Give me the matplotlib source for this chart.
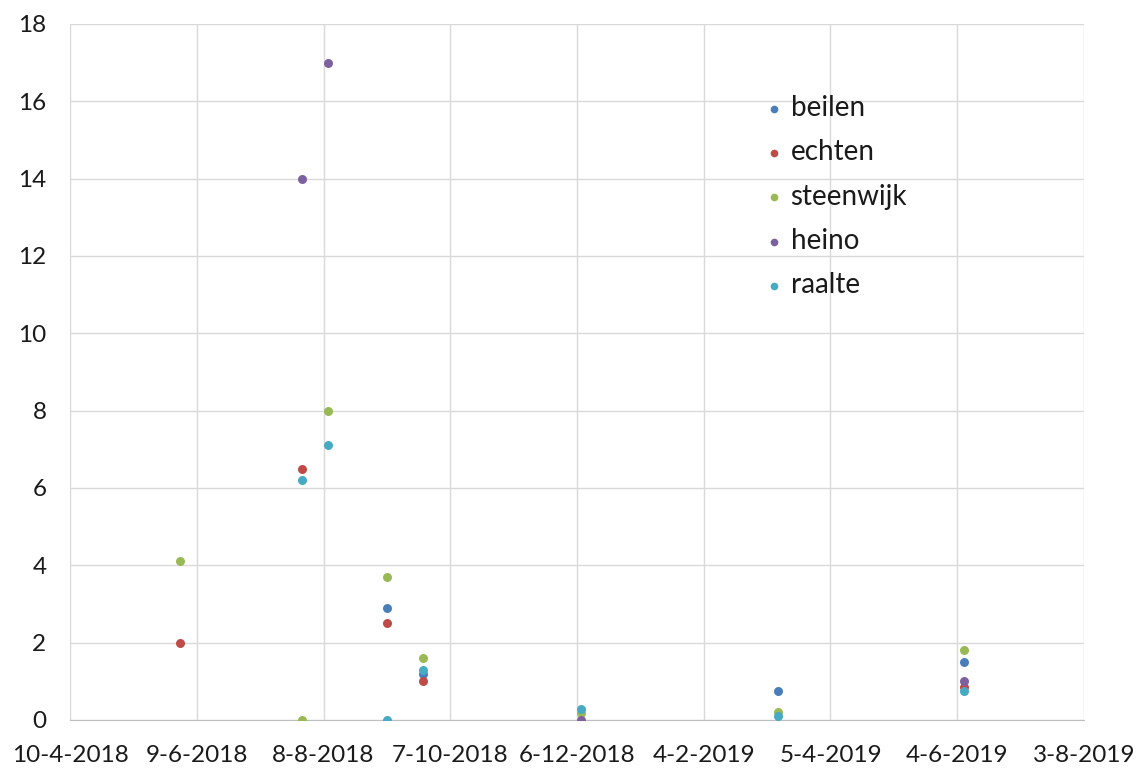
import pandas as pd
import matplotlib
matplotlib.use('Agg')
import matplotlib.pyplot as plt
import numpy as np

# meetdata per locatie (NaN = geen meting zichtbaar)
dates = pd.to_datetime(['1-6-2018', '29-7-2018', '10-8-2018', '7-9-2018', '24-9-2018',
                        '8-12-2018', '11-3-2019', '7-6-2019'], dayfirst=True)
beilen    = [np.nan, np.nan, np.nan, 2.9, 1.2, np.nan, 0.76, 1.5]
echten    = [2.0, 6.5, np.nan, 2.5, 1.0, np.nan, np.nan, 0.86]
steenwijk = [4.1, 0.0, 8.0, 3.7, 1.6, 0.17, 0.21, 1.8]
heino     = [np.nan, 14.0, 17.0, np.nan, np.nan, 0.0, np.nan, 1.0]
raalte    = [np.nan, 6.2, 7.1, 0.0, 1.3, 0.28, 0.1, 0.75]

series = {'beilen': beilen, 'echten': echten, 'steenwijk': steenwijk,
          'heino': heino, 'raalte': raalte}
colors = ['#4a7ebb', '#be4b48', '#98b954', '#7d60a0', '#46aac5']

tick_dates = pd.date_range('2018-04-10', periods=9, freq='60D')

plt.rcParams['font.family'] = ['Lato', 'DejaVu Sans']
fig = plt.figure(figsize=(11.41, 7.70), dpi=100)
ax = fig.add_axes([0.0614, 0.065, 0.8886, 0.904])

for (name, vals), c in zip(series.items(), colors):
    ax.scatter(dates, vals, s=42, color=c, label=name, zorder=3, linewidths=0)

ax.set_xlim(tick_dates[0], tick_dates[-1])
ax.set_ylim(0, 18)
ax.set_yticks(range(0, 19, 2))
ax.set_xticks(tick_dates)
ax.set_xticklabels([f'{d.day}-{d.month}-{d.year}' for d in tick_dates])
ax.tick_params(length=0, labelsize=17.5, colors='#1a1a1a')
ax.tick_params(axis='x', pad=18)
ax.tick_params(axis='y', pad=17)
ax.grid(True, color='#d9d9d9', linewidth=1)
ax.set_axisbelow(True)
for s in ['top', 'right', 'left']:
    ax.spines[s].set_visible(False)
ax.spines['bottom'].set_color('#bfbfbf')

leg = ax.legend(loc='upper left', bbox_to_anchor=(0.664, 0.918), frameon=False,
                fontsize=20, markerscale=0.85, handletextpad=0.0,
                labelspacing=0.66, borderpad=0, handlelength=1.2)
for t in leg.get_texts():
    t.set_color('#1a1a1a')

fig.savefig('out.png', dpi=100)
